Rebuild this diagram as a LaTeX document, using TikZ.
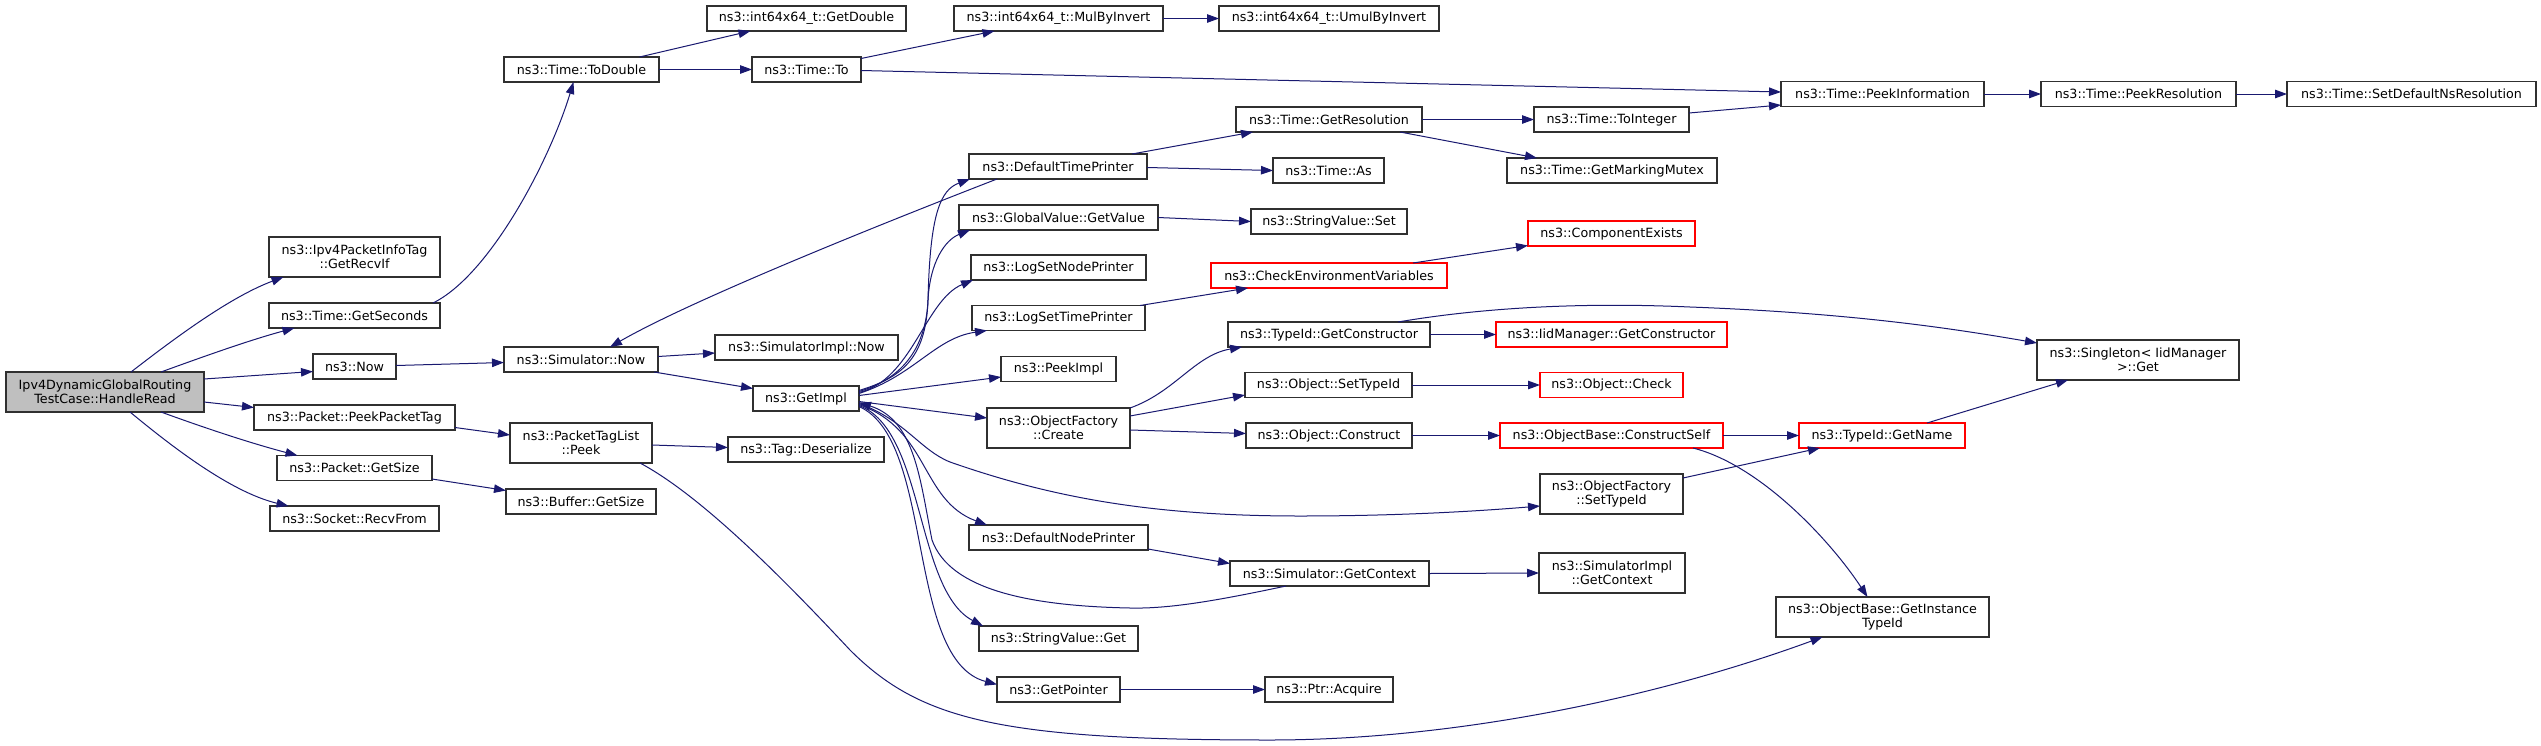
\documentclass[tikz,border=0pt]{standalone}
\usepackage{fontspec}
\setmainfont{DejaVu Sans}
\usetikzlibrary{arrows.meta,calc}
\definecolor{edgeblue}{HTML}{191970}
\definecolor{nodegray}{HTML}{BFBFBF}
\definecolor{bordergray}{HTML}{303030}
\definecolor{redline}{HTML}{FF0000}
\begin{document}
\begin{tikzpicture}[x=1pt,y=-1pt,
  box/.style={draw=bordergray, line width=1.1pt, fill=white, inner sep=0pt, outer sep=0pt,
    minimum height=25pt, align=center, text=black, font=\fontsize{12.7}{14}\selectfont},
  redbox/.style={box, draw=redline},
  call/.style={draw=edgeblue, line width=1pt, -{Triangle[length=12pt,width=8.5pt]}}]
\fill[white] (0,0) rectangle (2541,745);
\useasboundingbox (0,0) rectangle (2541,745);

\node[box,fill=nodegray,minimum width=198pt,minimum height=40pt] (hr) at (105,392) {Ipv4DynamicGlobalRouting\\TestCase::HandleRead};
\node[box,minimum width=171pt,minimum height=40pt] (recvif) at (354.5,257) {ns3::Ipv4PacketInfoTag\\::GetRecvIf};
\node[box,minimum width=171pt] (getsec) at (354.5,315.5) {ns3::Time::GetSeconds};
\node[box,minimum width=83pt] (now) at (354.5,366.5) {ns3::Now};
\node[box,minimum width=201pt] (ppt) at (354.5,417.5) {ns3::Packet::PeekPacketTag};
\node[box,minimum width=155pt] (pgs) at (354.5,468) {ns3::Packet::GetSize};
\node[box,minimum width=169pt] (recv) at (354.5,518.5) {ns3::Socket::RecvFrom};
\node[box,minimum width=155pt] (todbl) at (581.5,69.5) {ns3::Time::ToDouble};
\node[box,minimum width=154pt] (snow) at (581,359.5) {ns3::Simulator::Now};
\node[box,minimum width=142pt,minimum height=40pt] (ptl) at (581,443) {ns3::PacketTagList\\::Peek};
\node[box,minimum width=150pt] (bgs) at (581,501.5) {ns3::Buffer::GetSize};
\node[box,minimum width=199pt] (gdbl) at (806.5,18.5) {ns3::int64x64\_t::GetDouble};
\node[box,minimum width=109pt] (tto) at (806.5,69.5) {ns3::Time::To};
\node[box,minimum width=183pt] (simpnow) at (806.5,347.5) {ns3::SimulatorImpl::Now};
\node[box,minimum width=106pt] (getimpl) at (806,398.5) {ns3::GetImpl};
\node[box,minimum width=156pt] (tagdes) at (806,449.5) {ns3::Tag::Deserialize};
\node[box,minimum width=209pt] (mul) at (1058.5,18.5) {ns3::int64x64\_t::MulByInvert};
\node[box,minimum width=178pt] (dtp) at (1058,166.5) {ns3::DefaultTimePrinter};
\node[box,minimum width=199pt] (gvgv) at (1058.5,217.5) {ns3::GlobalValue::GetValue};
\node[box,minimum width=175pt] (lsnp) at (1058.5,267.5) {ns3::LogSetNodePrinter};
\node[box,minimum width=173pt] (lstp) at (1058.5,318) {ns3::LogSetTimePrinter};
\node[box,minimum width=115pt] (peekimpl) at (1058.5,369) {ns3::PeekImpl};
\node[box,minimum width=143pt,minimum height=40pt] (ofcreate) at (1058.5,428) {ns3::ObjectFactory\\::Create};
\node[box,minimum width=179pt] (dnp) at (1058.5,537.5) {ns3::DefaultNodePrinter};
\node[box,minimum width=159pt] (svget) at (1058.5,638.5) {ns3::StringValue::Get};
\node[box,minimum width=123pt] (getptr) at (1058.5,689.5) {ns3::GetPointer};
\node[box,minimum width=220pt] (umul) at (1329,18.5) {ns3::int64x64\_t::UmulByInvert};
\node[box,minimum width=186pt] (getres) at (1329,119.5) {ns3::Time::GetResolution};
\node[box,minimum width=111pt] (tas) at (1328.5,170.5) {ns3::Time::As};
\node[box,minimum width=156pt] (svset) at (1329,221.5) {ns3::StringValue::Set};
\node[redbox,minimum width=236pt] (cev) at (1329,275.5) {ns3::CheckEnvironmentVariables};
\node[box,minimum width=202pt] (tigc) at (1329,334.5) {ns3::TypeId::GetConstructor};
\node[box,minimum width=167pt] (osti) at (1328.5,385) {ns3::Object::SetTypeId};
\node[box,minimum width=166pt] (oconst) at (1329,435.5) {ns3::Object::Construct};
\node[box,minimum width=199pt] (sgc) at (1329.5,573.5) {ns3::Simulator::GetContext};
\node[box,minimum width=128pt] (acquire) at (1329,689.5) {ns3::Ptr::Acquire};
\node[box,minimum width=155pt] (toint) at (1611.5,119.5) {ns3::Time::ToInteger};
\node[box,minimum width=210pt] (gmm) at (1612,170.5) {ns3::Time::GetMarkingMutex};
\node[redbox,minimum width=167pt] (compex) at (1611.5,233.5) {ns3::ComponentExists};
\node[redbox,minimum width=231pt] (iidgc) at (1611.5,334.5) {ns3::IidManager::GetConstructor};
\node[redbox,minimum width=143pt] (ocheck) at (1611.5,385) {ns3::Object::Check};
\node[redbox,minimum width=223pt] (cself) at (1611.5,435.5) {ns3::ObjectBase::ConstructSelf};
\node[box,minimum width=143pt,minimum height=40pt] (ofsti) at (1611.5,494) {ns3::ObjectFactory\\::SetTypeId};
\node[box,minimum width=146pt,minimum height=40pt] (sigc) at (1612,573) {ns3::SimulatorImpl\\::GetContext};
\node[box,minimum width=203pt] (peekinfo) at (1882.5,94) {ns3::Time::PeekInformation};
\node[redbox,minimum width=166pt] (getname) at (1882,435.5) {ns3::TypeId::GetName};
\node[box,minimum width=213pt,minimum height=40pt] (git) at (1882.5,617) {ns3::ObjectBase::GetInstance\\TypeId};
\node[box,minimum width=195pt] (peekres) at (2138.5,94) {ns3::Time::PeekResolution};
\node[box,minimum width=202pt,minimum height=40pt] (singleton) at (2138,360) {ns3::Singleton< IidManager\\>::Get};
\node[box,minimum width=249pt] (sdns) at (2411.5,94) {ns3::Time::SetDefaultNsResolution};

% edges
\draw[call] ($(hr.north)+(26,0)$) .. controls (175,338) and (230,297) .. ($(recvif.south)+(-71,0)$);
\draw[call] ($(hr.north)+(56,0)$) .. controls (205,356) and (250,340) .. ($(getsec.south)+(-60,0)$);
\draw[call] ($(hr.east)+(0,-13)$) -- ($(now.west)+(0,5)$);
\draw[call] ($(hr.east)+(0,10)$) -- ($(ppt.west)+(0,-10)$);
\draw[call] ($(hr.south)+(56,0)$) .. controls (205,428) and (250,443) .. ($(pgs.north)+(-57,0)$);
\draw[call] ($(hr.south)+(25,0)$) .. controls (170,445) and (230,492) .. ($(recv.north)+(-66,0)$);
\draw[call] ($(getsec.north east)+(-7,0)$) .. controls (490,275) and (550,160) .. ($(todbl.south)+(-8,0)$);
\draw[call] ($(now.east)+(0,-1)$) -- ($(snow.west)+(0,3)$);
\draw[call] ($(todbl.north)+(58,0)$) -- ($(gdbl.south)+(-56,0)$);
\draw[call] (todbl.east) -- (tto.west);
\draw[call] ($(tto.east)+(0,-11)$) -- ($(mul.south)+(-64,0)$);
\draw[call] ($(tto.east)+(0,1)$) -- ($(peekinfo.west)+(0,-2)$);
\draw[call] (mul.east) -- (umul.west);
\draw[call] ($(snow.east)+(0,-3)$) -- ($(simpnow.west)+(0,5.5)$);
\draw[call] ($(snow.south east)+(-4,0)$) -- ($(getimpl.west)+(0,-10)$);
\draw[call] ($(dtp.south west)+(28,0)$) .. controls (930,205) and (700,295) .. ($(snow.north)+(29,0)$);

\draw[call] ($(getimpl.east)+(0,-8)$) .. controls (900,378) and (926,360) .. (928,300) .. controls (930,215) and (940,190) .. ($(dtp.south west)+(1,0)$);
\draw[call] ($(getimpl.east)+(0,-7)$) .. controls (905,378) and (926,345) .. (928,300) .. controls (930,262) and (945,240) .. ($(gvgv.south west)+(11,0)$);
\draw[call] ($(getimpl.east)+(0,-6)$) .. controls (912,380) and (925,300) .. ($(lsnp.south west)+(2,0)$);
\draw[call] ($(getimpl.east)+(0,-5)$) .. controls (915,375) and (935,338) .. ($(lstp.south west)+(15,0)$);
\draw[call] ($(getimpl.east)+(0,-3)$) -- ($(peekimpl.west)+(0,8)$);
\draw[call] ($(getimpl.east)+(0,3)$) -- ($(ofcreate.west)+(0,-10)$);
\draw[call] ($(getimpl.east)+(0,5)$) .. controls (905,420) and (920,450) .. (950,462) .. controls (1050,497) and (1150,516) .. (1300,516) .. controls (1400,516) and (1480,511) .. ($(ofsti.west)+(0,12)$);
\draw[call] ($(getimpl.east)+(0,6)$) .. controls (930,430) and (920,500) .. ($(dnp.north west)+(18,0)$);
\draw[call] ($(sgc.south)+(-43.5,0)$) .. controls (1220,600) and (1170,609) .. (1130,608) .. controls (1030,606) and (950,590) .. (932,540) .. controls (920,480) and (915,420) .. ($(getimpl.east)+(0,4)$);
\draw[call] ($(getimpl.east)+(0,7)$) .. controls (925,430) and (915,590) .. ($(svget.north west)+(4,0)$);
\draw[call] ($(getimpl.east)+(0,8)$) .. controls (935,440) and (905,660) .. ($(getptr.west)+(0,-5)$);

\draw[call] (ofcreate.north east) .. controls (1175,392) and (1195,355) .. ($(tigc.south west)+(14,0)$);
\draw[call] ($(ofcreate.east)+(0,-12)$) -- ($(osti.west)+(0,10)$);
\draw[call] ($(ofcreate.east)+(0,2)$) -- ($(oconst.west)+(0,-2)$);
\draw[call] ($(dnp.south east)+(0,-1)$) -- ($(sgc.west)+(0,-10)$);
\draw[call] (getptr.east) -- (acquire.west);
\draw[call] ($(dtp.north east)+(-15,0)$) -- ($(getres.south west)+(17,0)$);
\draw[call] ($(dtp.east)+(0,1)$) -- (tas.west);
\draw[call] (gvgv.east) -- (svset.west);
\draw[call] ($(lstp.north east)+(-5,0)$) -- ($(cev.south west)+(37,0)$);
\draw[call] ($(cev.north east)+(-34,0)$) -- ($(compex.west)+(0,12)$);
\draw[call] (getres.east) -- (toint.west);
\draw[call] ($(getres.south east)+(-22,0)$) -- ($(gmm.north west)+(30,0)$);
\draw[call] ($(toint.east)+(0,-6.5)$) -- ($(peekinfo.west)+(0,11)$);
\draw[call] (peekinfo.east) -- (peekres.west);
\draw[call] (peekres.east) -- (sdns.west);
\draw[call] (tigc.east) -- (iidgc.west);
\draw[call] ($(tigc.north east)+(-32,0)$) .. controls (1480,308) and (1580,302) .. (1690,307) .. controls (1850,313) and (1950,328) .. ($(singleton.north west)+(0,3)$);
\draw[call] (osti.east) -- (ocheck.west);
\draw[call] (oconst.east) -- (cself.west);
\draw[call] (cself.east) -- (getname.west);
\draw[call] ($(cself.south east)+(-30,0)$) .. controls (1760,465) and (1830,540) .. ($(git.north)+(-15,0)$);
\draw[call] ($(ofsti.north east)+(0,4)$) -- ($(getname.south west)+(21,0)$);
\draw[call] ($(getname.north east)+(-38,0)$) -- ($(singleton.south west)+(31,0)$);
\draw[call] (sgc.east) -- (sigc.west);
\draw[call] ($(ptl.south east)+(-12,0)$) .. controls (700,495) and (780,575) .. (850,650) .. controls (920,720) and (1000,740) .. (1270,740) .. controls (1450,740) and (1650,700) .. ($(git.south)+(-60,0)$);
\draw[call] ($(ppt.east)+(0,10)$) -- ($(ptl.west)+(0,-8)$);
\draw[call] ($(pgs.east)+(0,11)$) -- ($(bgs.west)+(0,-11)$);
\draw[call] ($(ptl.east)+(0,2)$) -- ($(tagdes.west)+(0,-2)$);
\end{tikzpicture}
\end{document}
